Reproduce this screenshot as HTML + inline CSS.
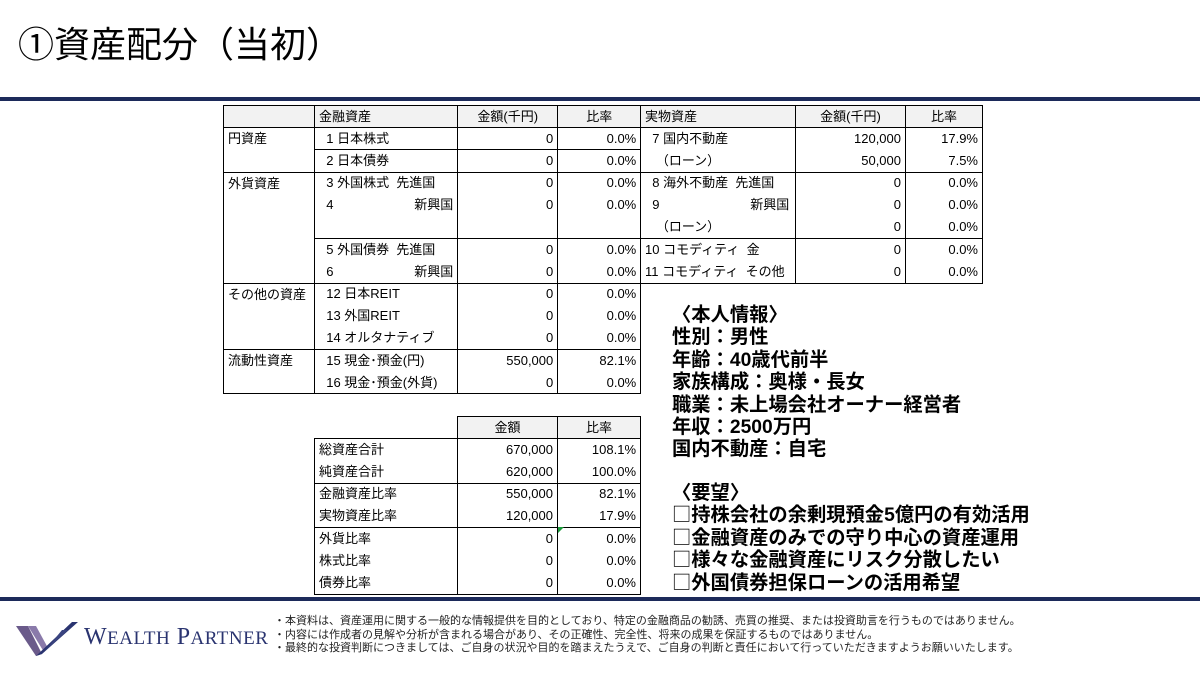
<!DOCTYPE html>
<html><head><meta charset="utf-8"><style>
*{margin:0;padding:0;box-sizing:border-box}
body{width:1200px;height:675px;background:#fff;position:relative;overflow:hidden;font-family:"Liberation Sans","Noto Sans CJK JP",sans-serif;color:#000}
.a{position:absolute}
table{border-collapse:collapse;position:absolute;font-size:13px;table-layout:fixed}
td{height:22.2px;padding:0 4px;white-space:nowrap;border-left:1px solid #000;border-right:1px solid #000;vertical-align:middle;line-height:14px}
td.r{text-align:right}
td.c{text-align:center}
tr.h td{background:#f2f2f2;border:1px solid #000}
tr.t td.n{border-top:1px solid #000}
td.g{border-top:1px solid #000;border-bottom:1px solid #000;vertical-align:top;padding-top:4px}
.s{display:inline-block}
.big{font-size:19.3px;font-weight:bold}
.big div{height:22.4px;line-height:22.4px;white-space:nowrap;overflow:visible}
.j{font-family:"Noto Sans CJK JP",sans-serif;font-weight:normal;display:inline-block;height:22px;line-height:22px;vertical-align:top;position:relative;top:-3px}
.ft{font-size:11px;line-height:13.5px;color:#222;font-family:"Noto Sans CJK JP",sans-serif}
</style></head><body>
<div class="a" style="left:18px;top:20px;font-size:36px;line-height:50px">①資産配分（当初）</div>
<div class="a" style="left:0;top:97px;width:1200px;height:4px;background:#1c2a5a"></div>
<div class="a" style="left:0;top:597px;width:1200px;height:4px;background:#1c2a5a"></div>

<table style="left:223px;top:105px;border:1px solid #000">
<colgroup><col style="width:91px"><col style="width:143px"><col style="width:100px"><col style="width:83px"></colgroup>
<tr class="h"><td></td><td>金融資産</td><td class="c">金額(千円)</td><td class="c">比率</td></tr>
<tr><td class="g" rowspan="2">円資産</td><td class="n">&nbsp;&nbsp;1 日本株式</td><td class="r n">0</td><td class="r n">0.0%</td></tr>
<tr class="t"><td class="n">&nbsp;&nbsp;2 日本債券</td><td class="r n">0</td><td class="r n">0.0%</td></tr>
<tr class="t"><td class="g" rowspan="5">外貨資産</td><td class="n">&nbsp;&nbsp;3 外国株式&nbsp;&nbsp;先進国</td><td class="r n">0</td><td class="r n">0.0%</td></tr>
<tr><td>&nbsp;&nbsp;<span class="s" style="width:88px">4</span>新興国</td><td class="r">0</td><td class="r">0.0%</td></tr>
<tr><td></td><td></td><td></td></tr>
<tr class="t"><td class="n">&nbsp;&nbsp;5 外国債券&nbsp;&nbsp;先進国</td><td class="r n">0</td><td class="r n">0.0%</td></tr>
<tr><td>&nbsp;&nbsp;<span class="s" style="width:88px">6</span>新興国</td><td class="r">0</td><td class="r">0.0%</td></tr>
<tr class="t"><td class="g" rowspan="3">その他の資産</td><td class="n">&nbsp;&nbsp;12 日本REIT</td><td class="r n">0</td><td class="r n">0.0%</td></tr>
<tr><td>&nbsp;&nbsp;13 外国REIT</td><td class="r">0</td><td class="r">0.0%</td></tr>
<tr><td>&nbsp;&nbsp;14 オルタナティブ</td><td class="r">0</td><td class="r">0.0%</td></tr>
<tr class="t"><td class="g" rowspan="2">流動性資産</td><td class="n">&nbsp;&nbsp;15 現金･預金(円)</td><td class="r n">550,000</td><td class="r n">82.1%</td></tr>
<tr><td>&nbsp;&nbsp;16 現金･預金(外貨)</td><td class="r">0</td><td class="r">0.0%</td></tr>
</table>

<table style="left:640px;top:105px;border:1px solid #000">
<colgroup><col style="width:155px"><col style="width:110px"><col style="width:77px"></colgroup>
<tr class="h"><td>実物資産</td><td class="c">金額(千円)</td><td class="c">比率</td></tr>
<tr><td>&nbsp;&nbsp;7 国内不動産</td><td class="r">120,000</td><td class="r">17.9%</td></tr>
<tr><td>&nbsp;&nbsp;&nbsp;（ローン）</td><td class="r">50,000</td><td class="r">7.5%</td></tr>
<tr class="t"><td class="n">&nbsp;&nbsp;8 海外不動産&nbsp;&nbsp;先進国</td><td class="r n">0</td><td class="r n">0.0%</td></tr>
<tr><td>&nbsp;&nbsp;<span class="s" style="width:98px">9</span>新興国</td><td class="r">0</td><td class="r">0.0%</td></tr>
<tr><td>&nbsp;&nbsp;&nbsp;（ローン）</td><td class="r">0</td><td class="r">0.0%</td></tr>
<tr class="t"><td class="n">10 コモディティ&nbsp;&nbsp;金</td><td class="r n">0</td><td class="r n">0.0%</td></tr>
<tr><td>11 コモディティ&nbsp;&nbsp;その他</td><td class="r">0</td><td class="r">0.0%</td></tr>
</table>

<table style="left:314px;top:416px;border-bottom:1px solid #000">
<colgroup><col style="width:143px"><col style="width:100px"><col style="width:83px"></colgroup>
<tr class="h"><td style="background:#fff;border:none;border-right:1px solid #000"></td><td class="c">金額</td><td class="c">比率</td></tr>
<tr><td style="border-top:1px solid #000">総資産合計</td><td class="r">670,000</td><td class="r">108.1%</td></tr>
<tr><td>純資産合計</td><td class="r">620,000</td><td class="r">100.0%</td></tr>
<tr class="t"><td class="n">金融資産比率</td><td class="r n">550,000</td><td class="r n">82.1%</td></tr>
<tr><td>実物資産比率</td><td class="r">120,000</td><td class="r">17.9%</td></tr>
<tr class="t"><td class="n">外貨比率</td><td class="r n">0</td><td class="r n">0.0%</td></tr>
<tr><td>株式比率</td><td class="r">0</td><td class="r">0.0%</td></tr>
<tr><td>債券比率</td><td class="r">0</td><td class="r">0.0%</td></tr>
</table>
<div class="a" style="left:558px;top:527px;width:0;height:0;border-top:6px solid #1a9a3a;border-right:6px solid transparent"></div>

<div class="a big" style="left:672px;top:305px"><div>〈本人情報〉</div><div>性別：男性</div><div>年齢：40歳代前半</div><div>家族構成：奥様・長女</div><div>職業：未上場会社オーナー経営者</div><div>年収：2500万円</div><div>国内不動産：自宅</div></div>
<div class="a big" style="left:672px;top:483px"><div>〈要望〉</div><div><span class="j">□</span>持株会社の余剰現預金5億円の有効活用</div><div><span class="j">□</span>金融資産のみでの守り中心の資産運用</div><div><span class="j">□</span>様々な金融資産にリスク分散したい</div><div><span class="j">□</span>外国債券担保ローンの活用希望</div></div>

<svg class="a" style="left:16px;top:620px" width="64" height="38" viewBox="0 0 64 38">
<polygon points="0,6 12,6 26,34 20,36" fill="#6a5a8a"/>
<polygon points="12,6 20,6 32,28 28,32" fill="#8a7aaa"/>
<polygon points="20,36 26,34 62,2 56,2" fill="#2a3470"/>
<polygon points="28,32 32,28 52,10 46,10" fill="#3a4480"/>
</svg>
<div class="a" style="left:84px;top:624px;font-family:'Liberation Serif',serif;font-size:24px;color:#2a3470;letter-spacing:0.5px">W<span style="font-size:19px">EALTH</span> P<span style="font-size:19px">ARTNER</span></div>
<div class="a ft" style="left:274px;top:614px">・本資料は、資産運用に関する一般的な情報提供を目的としており、特定の金融商品の勧誘、売買の推奨、または投資助言を行うものではありません。<br>・内容には作成者の見解や分析が含まれる場合があり、その正確性、完全性、将来の成果を保証するものではありません。<br>・最終的な投資判断につきましては、ご自身の状況や目的を踏まえたうえで、ご自身の判断と責任において行っていただきますようお願いいたします。</div>
</body></html>
